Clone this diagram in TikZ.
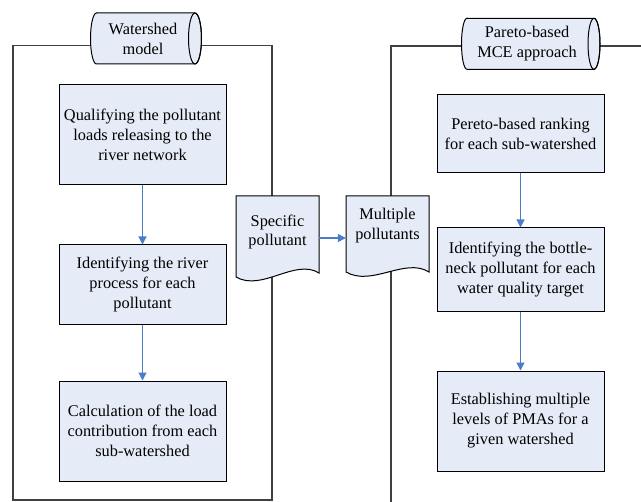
\documentclass[tikz,border=0pt]{standalone}
\usepackage{fontspec}
\setmainfont{Liberation Serif}
\usetikzlibrary{arrows.meta}
\definecolor{boxfill}{RGB}{230,236,247}
\definecolor{flowblue}{RGB}{74,124,200}
\definecolor{framegray}{RGB}{64,64,64}
\begin{document}
\begin{tikzpicture}[x=1bp,y=-1bp,
  every node/.style={font=\fontsize{16.4}{20}\selectfont},
  stepbox/.style={draw=black,line width=1bp,fill=boxfill,align=center,minimum width=167bp,inner sep=2bp},
  docline/.style={draw=black,line width=1bp,fill=boxfill},
  flow/.style={flowblue,line width=1.2bp,-{Triangle[width=8bp,length=8bp]}},
  frame/.style={framegray,line width=1.3bp}]
\useasboundingbox (0,0) rectangle (641,502);
% frames
\draw[frame] (13,45.5) rectangle (272,500);
\draw[frame] (641,46) -- (391,46) -- (391,502);
% titles (drums)
\draw[docline] (96.5,13) -- (195,13) arc[start angle=90,end angle=-90,x radius=6.5bp,y radius=25.5bp]
  -- (96.5,64) arc[start angle=270,end angle=90,x radius=6bp,y radius=25.5bp] -- cycle;
\draw[line width=1bp] (195,38.5) ellipse[x radius=6.5bp,y radius=25.5bp];
\node[align=center] (wsm) at (143,38.5) {Watershed\\model};
\draw[docline] (467,18.3) -- (594,18.3) arc[start angle=90,end angle=-90,x radius=6bp,y radius=25.5bp]
  -- (467,69.3) arc[start angle=270,end angle=90,x radius=5.5bp,y radius=25.5bp] -- cycle;
\draw[line width=1bp] (594,43.8) ellipse[x radius=6bp,y radius=25.5bp];
\node[align=center] (mce) at (527,43.8) {Pareto-based\\MCE approach};
% left column
\node[stepbox,minimum height=100bp] (load) at (142.5,135) {Qualifying the pollutant\\loads releasing to the\\river network};
\node[stepbox,minimum height=79bp] (river) at (142.5,284.5) {Identifying the river\\process for each\\pollutant};
\node[stepbox,minimum height=100bp] (contrib) at (142.5,431) {Calculation of the load\\contribution from each\\sub-watershed};
\draw[flow] (load) -- (river);
\draw[flow] (river) -- (contrib);
% right column
\node[stepbox,minimum height=78bp] (rank) at (520.5,134) {Pereto-based ranking\\for each sub-watershed};
\node[stepbox,minimum height=83bp] (neck) at (520.5,269.5) {Identifying the bottle-\\neck pollutant for each\\water quality target};
\node[stepbox,minimum height=100bp] (levels) at (520.5,421) {Establishing multiple\\levels of PMAs for a\\given watershed};
\draw[flow] (rank) -- (neck);
\draw[flow] (neck) -- (levels);
% documents
\draw[docline] (236,196) -- (319,196) -- (319,273) .. controls (295,258) and (262,292) .. (236,277) -- cycle;
\draw[docline] (346,196) -- (429,196) -- (429,272) .. controls (405,257) and (372,287) .. (346,272) -- cycle;
\node[align=center,minimum width=83bp,inner sep=0pt] (spec) at (277.5,232) {Specific\\pollutant};
\node[align=center,minimum width=83bp,inner sep=0pt] (multi) at (387.5,226) {Multiple\\pollutants};
\draw[flow] ([yshift=-6bp]spec.east) -- ([yshift=-6bp]spec.east -| multi.west);
\end{tikzpicture}
\end{document}
